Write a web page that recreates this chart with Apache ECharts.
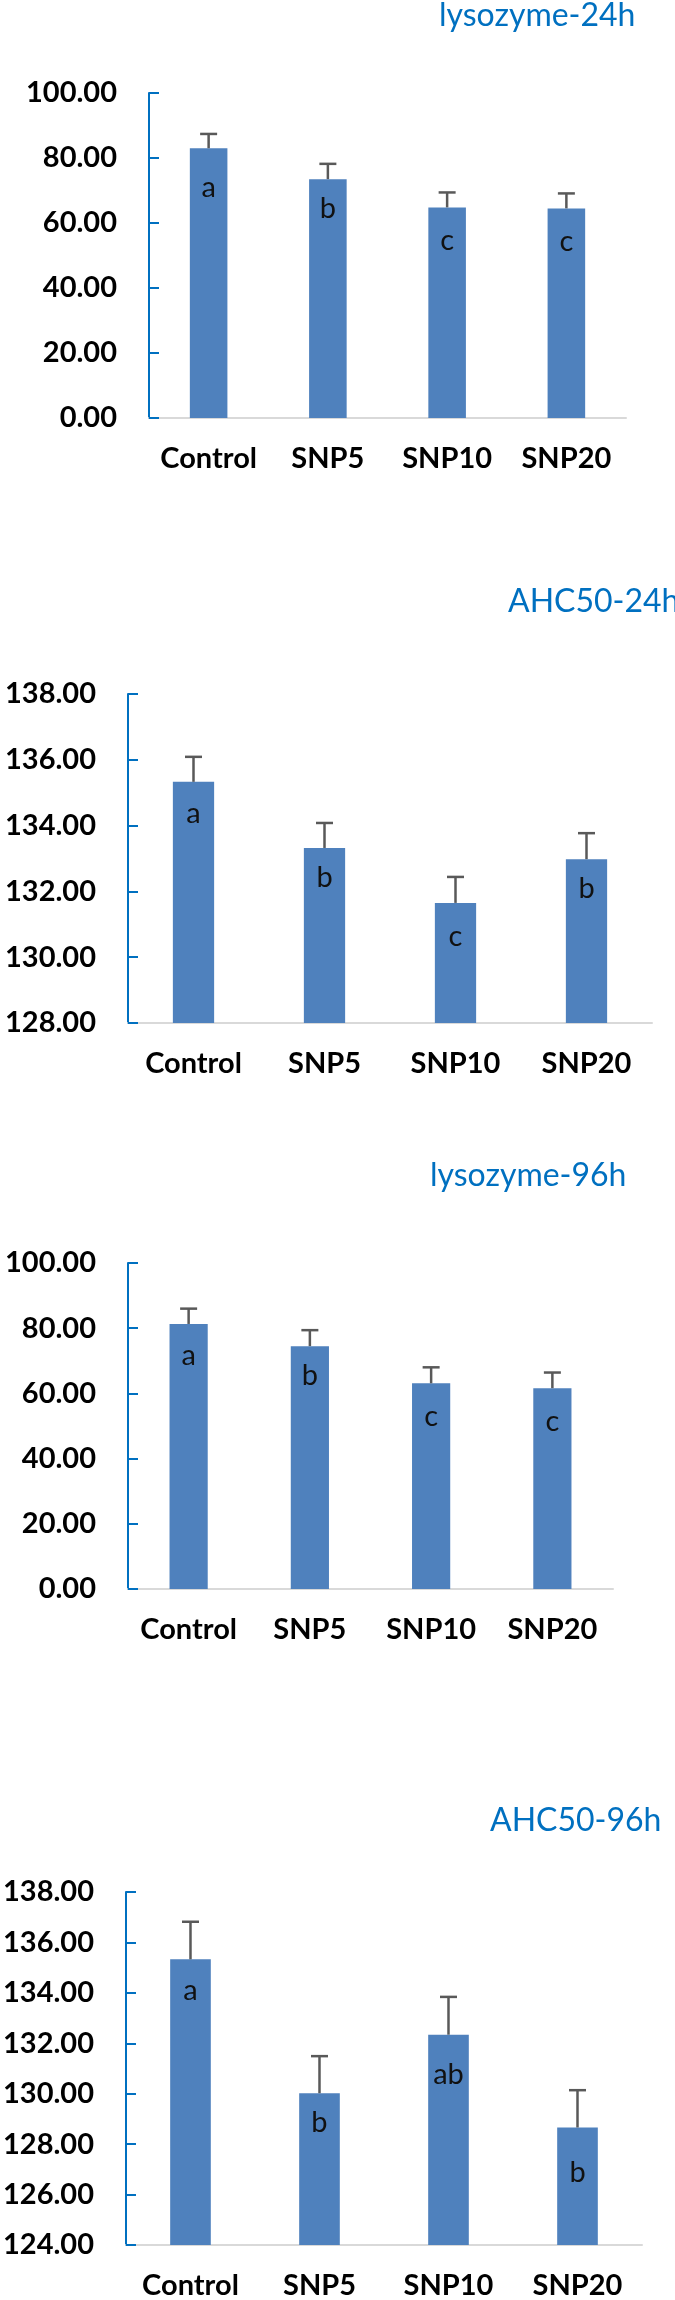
<!DOCTYPE html>
<html>
<head>
<meta charset="utf-8">
<script src="https://cdn.jsdelivr.net/npm/echarts@6/dist/echarts.min.js"></script>
<style>
html,body{margin:0;padding:0;background:#fff;}
#c{width:675px;height:2300px;}
</style>
</head>
<body>
<div id="c"></div>
<script>
const categories = ['Control', 'SNP5', 'SNP10', 'SNP20'];
const chartTitles = ['lysozyme-24h', 'AHC50-24h', 'lysozyme-96h', 'AHC50-96h'];

const lys24 = [83.0, 73.5, 64.8, 64.5];
const lys24Err = [4.4, 4.7, 4.6, 4.6];
const lys24Letters = ['a', 'b', 'c', 'c'];

const ahc24 = [135.33, 133.32, 131.65, 132.98];
const ahc24Err = [0.76, 0.76, 0.79, 0.79];
const ahc24Letters = ['a', 'b', 'c', 'b'];

const lys96 = [81.3, 74.5, 63.1, 61.6];
const lys96Err = [4.7, 4.9, 4.9, 4.8];
const lys96Letters = ['a', 'b', 'c', 'c'];

const ahc96 = [135.33, 130.02, 132.34, 128.66];
const ahc96Err = [1.49, 1.47, 1.50, 1.48];
const ahc96Letters = ['a', 'b', 'ab', 'b'];

const yMins = [0, 128, 0, 124];
const yMaxs = [100, 138, 100, 138];
const ySteps = [20, 2, 20, 2];

const panels = [
  {vals: lys24, errs: lys24Err, letters: lys24Letters},
  {vals: ahc24, errs: ahc24Err, letters: ahc24Letters},
  {vals: lys96, errs: lys96Err, letters: lys96Letters},
  {vals: ahc96, errs: ahc96Err, letters: ahc96Letters}
];

// layout (pixels)
const grids = [
  {left: 149, top: 93, width: 477, height: 325},
  {left: 128, top: 694, width: 524, height: 329},
  {left: 128, top: 1263, width: 485, height: 326},
  {left: 122, top: 1892, width: 520, height: 354}
];
const titlePos = [
  {left: 439, top: 0},
  {left: 508, top: 586},
  {left: 430, top: 1160},
  {left: 490, top: 1805}
];
const letterDist = [[25, 15, 19, 19], [17, 15, 19, 15], [17, 15, 19, 19], [17, 15, 25, 31]];

const FONT = 'Lato, "Open Sans", sans-serif';
const BAR = '#4F81BD';
const AXISBLUE = '#0070C0';
const ERR = '#595959';

const option = {
  animation: false,
  backgroundColor: '#ffffff',
  title: chartTitles.map((t, i) => ({
    text: t,
    left: titlePos[i].left,
    top: titlePos[i].top,
    padding: 0,
    textStyle: {color: AXISBLUE, fontFamily: FONT, fontWeight: 'normal', fontSize: 32}
  })),
  grid: grids.map(g => Object.assign({containLabel: false}, g)),
  xAxis: grids.map((g, i) => ({
    type: 'category',
    gridIndex: i,
    data: categories,
    axisLine: {show: true, lineStyle: {color: '#D9D9D9', width: 2}},
    axisTick: {show: false},
    splitLine: {show: false},
    axisLabel: {color: '#000', fontFamily: FONT, fontWeight: 'bold', fontSize: 29, margin: 26, interval: 0}
  })),
  yAxis: grids.map((g, i) => ({
    type: 'value',
    gridIndex: i,
    min: yMins[i],
    max: yMaxs[i],
    interval: ySteps[i],
    axisLine: {show: true, lineStyle: {color: AXISBLUE, width: 2}},
    axisTick: {show: true, inside: true, length: 10, lineStyle: {color: AXISBLUE, width: 2}},
    splitLine: {show: false},
    axisLabel: {
      color: '#000', fontFamily: FONT, fontWeight: 'bold', fontSize: 29, margin: 32,
      formatter: v => v.toFixed(2)
    }
  })),
  series: []
};

panels.forEach((p, i) => {
  option.series.push({
    type: 'bar',
    xAxisIndex: i,
    yAxisIndex: i,
    barWidth: '31.5%',
    clip: true,
    data: p.vals.map((v, j) => ({
      value: v,
      label: {distance: letterDist[i][j]}
    })),
    itemStyle: {color: BAR},
    label: {
      show: true,
      position: 'insideTop',
      color: '#111',
      fontFamily: FONT,
      fontSize: 29,
      formatter: params => p.letters[params.dataIndex]
    },
    z: 2
  });
  option.series.push({
    type: 'custom',
    xAxisIndex: i,
    yAxisIndex: i,
    data: p.vals.map((v, j) => [j, v, p.errs[j]]),
    z: 3,
    renderItem: (params, api) => {
      const x = api.value(0), y = api.value(1), e = api.value(2);
      const a = api.coord([x, y]);
      const b = api.coord([x, y + e]);
      const half = 8.5;
      return {
        type: 'group',
        children: [
          {type: 'line', shape: {x1: a[0], y1: a[1], x2: b[0], y2: b[1]}, style: {stroke: ERR, lineWidth: 2.5}},
          {type: 'line', shape: {x1: b[0] - half, y1: b[1], x2: b[0] + half, y2: b[1]}, style: {stroke: ERR, lineWidth: 2.5}}
        ]
      };
    }
  });
});

const chart = echarts.init(document.getElementById('c'), null, {renderer: 'canvas', width: 675, height: 2300});
chart.setOption(option);
</script>
</body>
</html>
